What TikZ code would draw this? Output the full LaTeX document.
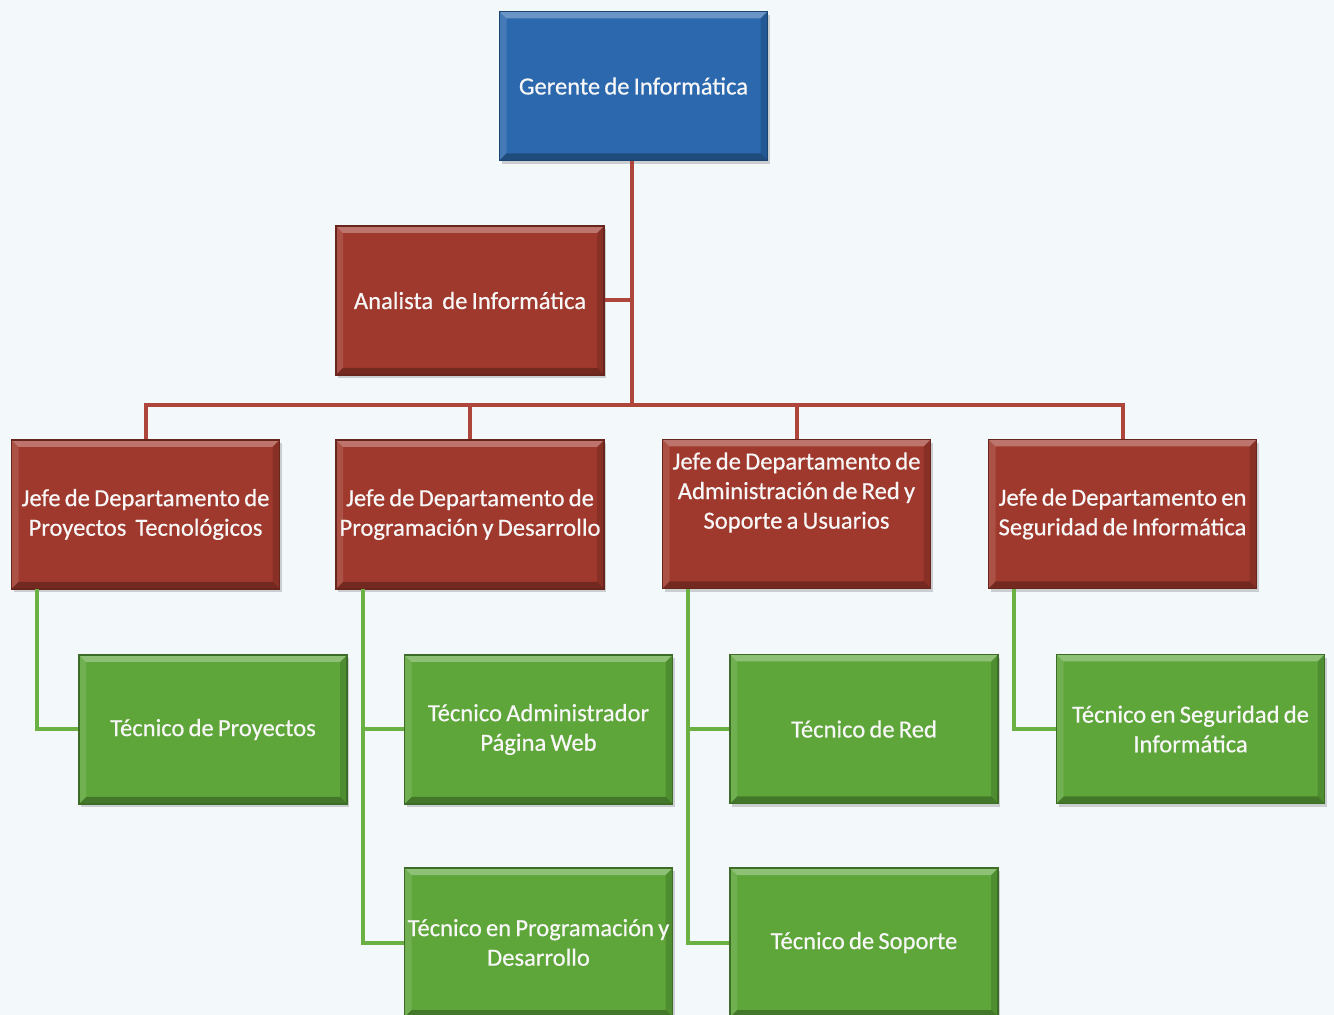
\documentclass[tikz,border=0pt]{standalone}
\usepackage{fontspec}
\setmainfont{Carlito}[FakeBold=0.5]
\usetikzlibrary{shadows}

\definecolor{pagebg}{HTML}{F3F9FB}
\definecolor{bluebox}{HTML}{2B68AE}
\definecolor{redbox}{HTML}{A0392D}
\definecolor{greenbox}{HTML}{5EA63A}
\definecolor{redline}{HTML}{AE463B}
\definecolor{greenline}{HTML}{6AB043}

\newcommand\boxfont{\fontsize{12.3}{14.8}\selectfont\spaceskip=0.17em plus 0.05em minus 0.02em\relax}

\tikzset{
  orgbox/.style={
    draw=#1!65!black, line width=0.6pt, fill=#1,
    minimum width=134pt, minimum height=74.5pt,
    align=center, inner sep=0pt,
    font=\boxfont, text=white!94!gray,
    drop shadow={shadow xshift=1.2pt, shadow yshift=-1.6pt, opacity=0.35},
    path picture={
      % bevelled rim: lit top, soft sides, shaded bottom
      \fill[white,opacity=0.3] (path picture bounding box.north west) -- (path picture bounding box.north east)
        -- ([shift={(-3.5pt,-3.5pt)}]path picture bounding box.north east) -- ([shift={(3.5pt,-3.5pt)}]path picture bounding box.north west) -- cycle;
      \fill[white,opacity=0.12] (path picture bounding box.north west) -- ([shift={(3.5pt,-3.5pt)}]path picture bounding box.north west)
        -- ([shift={(3.5pt,3.5pt)}]path picture bounding box.south west) -- (path picture bounding box.south west) -- cycle;
      \fill[black,opacity=0.15] (path picture bounding box.north east) -- ([shift={(-3.5pt,-3.5pt)}]path picture bounding box.north east)
        -- ([shift={(-3.5pt,3.5pt)}]path picture bounding box.south east) -- (path picture bounding box.south east) -- cycle;
      \fill[black,opacity=0.28] (path picture bounding box.south west) -- ([shift={(3.5pt,3.5pt)}]path picture bounding box.south west)
        -- ([shift={(-3.5pt,3.5pt)}]path picture bounding box.south east) -- (path picture bounding box.south east) -- cycle;
    }},
  boxtext/.style={align=center, inner sep=0pt, font=\boxfont, text=white!94!gray},
  redlink/.style={draw=redline, line width=2pt},
  greenlink/.style={draw=greenline, line width=2pt},
}

\begin{document}
\begin{tikzpicture}[x=0.5pt, y=-0.5pt]
  \useasboundingbox (0,0) rectangle (1334,1015);
  \clip (0,0) rectangle (1334,1015);
  \fill[pagebg] (0,0) rectangle (1334,1015);

  \coordinate (bus) at (632,405);

  % top level
  \node[orgbox=bluebox] (g) at (633.5,86) {Gerente de Informática};
  \node[orgbox=redbox] (a) at (470,300.5) {Analista\hspace{0.2em} de Informática};

  % department heads
  \node[orgbox=redbox] (j1) at (145.5,514.5) {Jefe de Departamento de\\Proyectos\hspace{0.2em} Tecnológicos};
  \node[orgbox=redbox] (j2) at (470,514.5) {Jefe de Departamento de\\Programación y Desarrollo};
  \node[orgbox=redbox] (j3) at (796.5,514) {};
  \node[boxtext] (j3t) at (796.5,492.5) {Jefe de Departamento de\\Administración de Red y\\Soporte a Usuarios};
  \node[orgbox=redbox] (j4) at (1122.5,514) {Jefe de Departamento en\\Seguridad de Informática};

  % technicians
  \node[orgbox=greenbox] (t1) at (213,729.5) {Técnico de Proyectos};
  \node[orgbox=greenbox] (t2) at (538.5,729.5) {Técnico Administrador\\Página Web};
  \node[orgbox=greenbox] (t3) at (864,729) {Técnico de Red};
  \node[orgbox=greenbox] (t4) at (1190.5,729) {Técnico en Seguridad de\\Informática};
  \node[orgbox=greenbox] (t5) at (538.5,942.5) {Técnico en Programación y\\Desarrollo};
  \node[orgbox=greenbox] (t6) at (864,942.5) {Técnico de Soporte};

  % management links
  \draw[redlink] (g.south -| bus) -- (bus);
  \draw[redlink] (a.east) -- (a.east -| bus);
  \draw[redlink] (j1.north) |- (bus) -| (j4.north);
  \draw[redlink] (j2.north) -- (j2.north |- bus);
  \draw[redlink] (j3.north) -- (j3.north |- bus);

  % technician links
  \coordinate (l1) at (37,589);
  \coordinate (l2) at (363,589);
  \coordinate (l3) at (688,589);
  \coordinate (l4) at (1014,589);
  \draw[greenlink] (l1) |- (t1.west);
  \draw[greenlink] (l2) |- (t5.west);
  \draw[greenlink] (t2.west) -- (t2.west -| l2);
  \draw[greenlink] (l3) |- (t6.west);
  \draw[greenlink] (t3.west) -- (t3.west -| l3);
  \draw[greenlink] (l4) |- (t4.west);
\end{tikzpicture}
\end{document}
